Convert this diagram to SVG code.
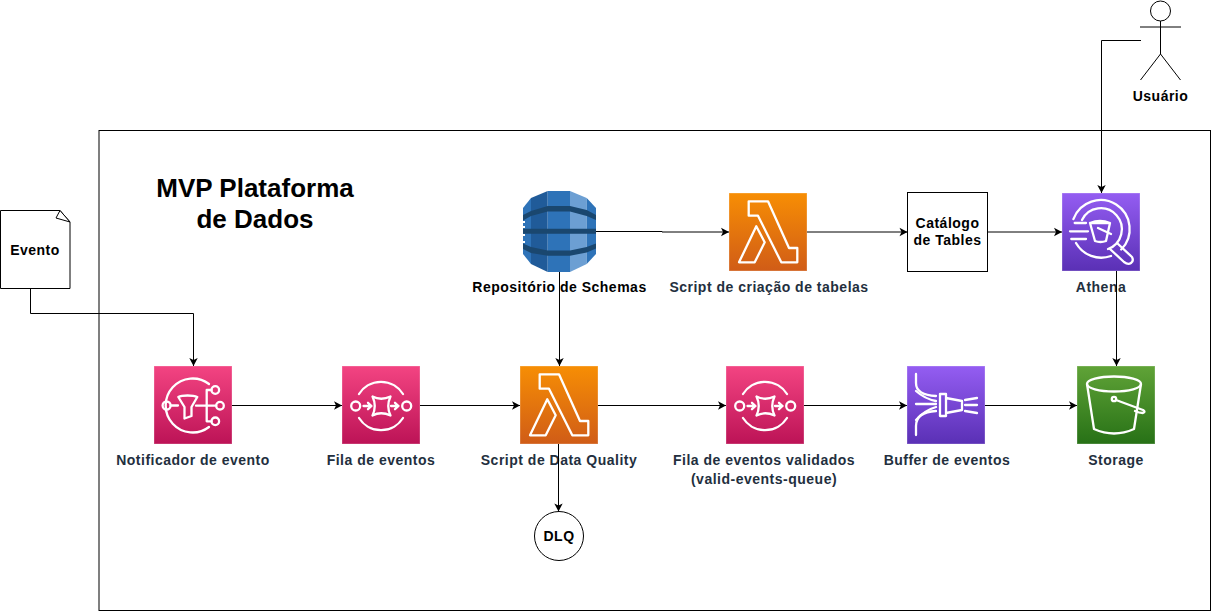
<svg xmlns="http://www.w3.org/2000/svg" xmlns:xlink="http://www.w3.org/1999/xlink" width="1212" height="612" viewBox="0 0 1212 612">
<style>
text{font-family:"Liberation Sans",Arial,sans-serif;font-weight:bold;font-size:14px;text-anchor:middle;fill:#000;letter-spacing:.5px}
.l{fill:#232F3E}
.t{font-size:26px;letter-spacing:0}
.box{stroke:#fff;stroke-opacity:.3;stroke-width:1}
.g{fill:none;stroke:#fff;stroke-width:2.300;stroke-linejoin:round;stroke-linecap:round}
.s{fill:#fff;stroke:#000;stroke-width:1}
.c{fill:none;stroke:#000;stroke-width:1;marker-end:url(#a)}
</style>
<defs>
<marker id="a" markerUnits="userSpaceOnUse" markerWidth="10" markerHeight="10" refX="8.600" refY="5" orient="auto"><path d="M0.600 0.800L8.600 5L0.600 9.200L2.600 5Z" fill="#000"/></marker>
<linearGradient id="pink" x1="0" y1="0" x2="0" y2="1"><stop offset="0" stop-color="#F34482"/><stop offset="1" stop-color="#BC1356"/></linearGradient>
<linearGradient id="orange" x1="0" y1="0" x2="0" y2="1"><stop offset="0" stop-color="#F78E04"/><stop offset="1" stop-color="#D05C17"/></linearGradient>
<linearGradient id="purple" x1="0" y1="0" x2="0" y2="1"><stop offset="0" stop-color="#945DF2"/><stop offset="1" stop-color="#5A30B5"/></linearGradient>
<linearGradient id="green" x1="0" y1="0" x2="0" y2="1"><stop offset="0" stop-color="#60A337"/><stop offset="1" stop-color="#277116"/></linearGradient>
<g id="i-lambda">
<rect class="box" width="78" height="78" fill="url(#orange)"/>
<path class="g" d="M19.700 8.300H39L60 55H68.300V69.300H52.300L29 22.700H19.700ZM27.300 33.300L35.700 49.300L25.700 69.300H10Z"/>
</g>
<g id="i-sqs">
<rect class="box" width="78" height="78" fill="url(#pink)"/>
<g class="g">
<path d="M17 28A26 26 0 0 1 61 28M17 52A26 26 0 0 0 61 52"/>
<circle cx="13.700" cy="40" r="4.500"/><circle cx="64.700" cy="40" r="4.500"/>
<path d="M21.500 40H29M26 36.800L29.500 40L26 43.200M49 40H56.500M53 36.800L56.500 40L53 43.200"/>
<path d="M30.500 30.500Q39 35 48.500 30.500Q44 40 48.500 49.500Q39 45 30.500 49.500Q35 40 30.500 30.500Z"/>
</g>
</g>
</defs>

<g id="frame"><rect class="s" x="99" y="130.500" width="1111.500" height="480"/></g>

<g id="title"><text class="t" x="255" y="197">MVP Plataforma</text><text class="t" x="255" y="228">de Dados</text></g>

<g id="evento">
<path class="s" d="M0.500 210.500H60L70 222V288.500H0.500Z"/>
<path d="M60 210.500L56 218L70 222Z" fill="#fff" stroke="#000" stroke-width="1"/>
<text x="35" y="255">Evento</text>
</g>

<g id="notificador" transform="translate(154 366)">
<rect class="box" width="78" height="78" fill="url(#pink)"/>
<g class="g">
<path d="M55 18A27 27 0 1 0 55 61"/>
<circle cx="12.600" cy="39.500" r="4"/>
<circle cx="61.300" cy="24" r="3.800"/><circle cx="66" cy="39.700" r="3.800"/><circle cx="61.300" cy="55.300" r="3.800"/>
<path d="M16.600 39.500H24M24.300 31C28 29 39 29 43.300 31L37.500 41V50L30.500 52.500V41Z"/>
<path d="M42 39.700H62.200M52.700 24V55.300M52.700 24H57.500M52.700 55.300H57.500"/>
</g>
<text class="l" x="39" y="99">Notificador de evento</text>
</g>

<g id="fila" transform="translate(342 366)">
<use xlink:href="#i-sqs" href="#i-sqs"/>
<text class="l" x="39" y="99">Fila de eventos</text>
</g>

<g id="repositorio">
<path fill="#2E73B8" d="M523 208L531 198V264L523 254Z"/>
<path fill="#205B99" d="M531 198L547.700 191V272L531 264Z"/>
<path fill="#2E73B8" d="M547.700 191H570V272H547.700Z"/>
<path fill="#6C9FD3" d="M570 191L586.700 198V264L570 272Z"/>
<path fill="#2E73B8" d="M586.700 198L596 208V254L586.700 264Z"/>
<path fill="#1A476F" d="M523 215L531 211L547.700 206H570L586.700 210L596 215V220L586.700 216L570 211.500H547.700L531 216L523 220.500ZM523 228.700H596V233.700H523ZM523 243.500L531 247L547.700 250.500H570L586.700 247L596 243.500V248.500L586.700 252.500L570 255.800H547.700L531 253L523 249Z"/>
<path fill="#fff" d="M523 221h2v2h-2zM523 226h2v2h-2zM523 234h2v2h-2zM523 241h2v2h-2z"/>
<text x="559.500" y="292">Repositório de Schemas</text>
</g>

<g id="script-tabelas" transform="translate(729 193)">
<use xlink:href="#i-lambda" href="#i-lambda"/>
<text class="l" x="40" y="99">Script de criação de tabelas</text>
</g>

<g id="catalogo">
<rect class="s" x="907.500" y="192.500" width="80" height="79"/>
<text x="947.500" y="228">Catálogo</text>
<text x="947.500" y="245">de Tables</text>
</g>

<g id="athena" transform="translate(1062 193)">
<rect class="box" width="78" height="78" fill="url(#purple)"/>
<g class="g">
<path d="M11.400 26.100A29 29 0 1 1 59.200 56.500"/>
<path d="M14 50A29 29 0 0 0 49 63"/>
<path d="M20 27A21 21 0 1 1 46 56"/>
<path d="M8 38.300H26M12.700 30H24M9.300 46H24"/>
<path d="M28 30L33 48Q38.500 50 44 48L48 30ZM28 30Q38 26 48 30M36 35L49 41"/>
<path d="M55 50L70 64Q72 68 69 70Q66 72 62 69L48 56"/>
</g>
<text class="l" x="39" y="99">Athena</text>
</g>

<g id="script-dq" transform="translate(520 366)">
<use xlink:href="#i-lambda" href="#i-lambda"/>
<text class="l" x="39" y="99">Script de Data Quality</text>
</g>

<g id="fila-validados" transform="translate(726 366)">
<use xlink:href="#i-sqs" href="#i-sqs"/>
<text class="l" x="38" y="99">Fila de eventos validados</text>
<text class="l" x="38" y="118">(valid-events-queue)</text>
</g>

<g id="buffer" transform="translate(907 366)">
<rect class="box" width="78" height="78" fill="url(#purple)"/>
<g class="g">
<path d="M9 8V17Q9 29 29 30M9 69V60Q9 46 29 45"/>
<path d="M9 25Q18 33 29 35M9 54Q18 44 29 41M9 38L29 38"/>
<path d="M33 28H39V50H33ZM39 32L55 35V44L39 47"/>
<path d="M58 34L70 32M58 39H70M58 45L70 47"/>
</g>
<text class="l" x="40" y="99">Buffer de eventos</text>
</g>

<g id="storage" transform="translate(1077 366)">
<rect class="box" width="78" height="78" fill="url(#green)"/>
<g class="g">
<ellipse cx="37" cy="18" rx="27" ry="7.500"/>
<path d="M10 18L17 63Q37 72 57 63L64 18"/>
<circle cx="37" cy="33" r="2.200"/>
<path d="M39 34L66 44Q69 46 66 47Q62 47 58 45"/>
</g>
<text class="l" x="39" y="99">Storage</text>
</g>

<g id="dlq">
<circle class="s" cx="559" cy="536" r="24.500"/>
<text x="559" y="541">DLQ</text>
</g>

<g id="usuario">
<circle class="s" cx="1160.500" cy="11" r="10"/>
<path d="M1160.500 21V54M1140 27H1181M1160.500 54L1140.500 80M1160.500 54L1180.500 80" fill="none" stroke="#000" stroke-width="1"/>
<text x="1160.500" y="101">Usuário</text>
</g>

<g id="connectors">
<path class="c" d="M30.500 289V313.500H193.500V366"/>
<path class="c" d="M232 405.500H342"/>
<path class="c" d="M420 405.500H520"/>
<path class="c" d="M598 405.500H726"/>
<path class="c" d="M804 405.500H907"/>
<path class="c" d="M985 405.500H1077"/>
<path class="c" d="M559.500 272V366"/>
<path class="c" d="M558.500 444V511.500"/>
<path class="c" d="M596 231.500H662V232H729"/>
<path class="c" d="M807 232H907.500"/>
<path class="c" d="M987.500 232H1062"/>
<path class="c" d="M1116.500 271V366"/>
<path class="c" d="M1141 40.500H1101.500V193"/>
</g>
</svg>
